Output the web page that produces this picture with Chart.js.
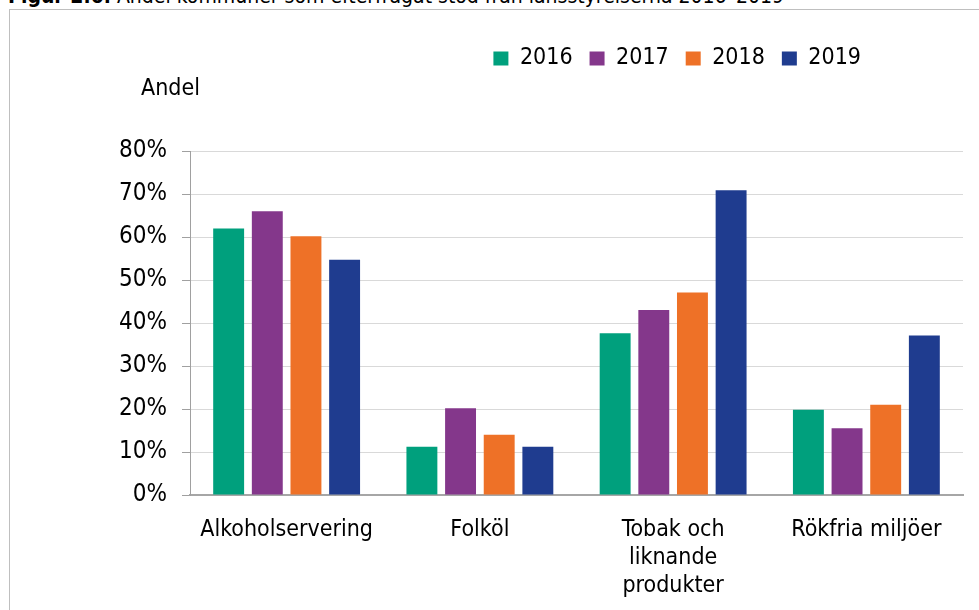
<!DOCTYPE html>
<html lang="sv">
<head>
<meta charset="utf-8">
<script src="https://cdn.jsdelivr.net/npm/chart.js@4/dist/chart.umd.min.js"></script>
<style>
  html, body { margin: 0; padding: 0; background: #fff; overflow: hidden; }
  #caption {
    position: absolute; left: 8px; top: -14px;
    font-family: "DejaVu Sans Condensed", "DejaVu Sans", sans-serif;
    font-size: 21px; line-height: 21px; color: #000; white-space: nowrap;
  }
  #ram {
    position: absolute; left: 9px; top: 9px; width: 1000px; height: 700px;
    border: 1px solid #bfbfbf;
  }
  #wrap { position: absolute; left: 0; top: 0; width: 979px; height: 610px; }
</style>
</head>
<body>
<div id="caption"><b>Figur 2.6.</b> Andel kommuner som efterfrågat stöd från länsstyrelserna 2016–2019</div>
<div id="ram"></div>
<div id="wrap"><canvas id="diagram" width="979" height="610"></canvas></div>
<script>
const kategorier = ["Alkoholservering", "Folköl", ["Tobak och", "liknande", "produkter"], "Rökfria miljöer"];
const ar = ["2016", "2017", "2018", "2019"];
const varden2016 = [62, 11.2, 37.6, 19.8];
const varden2017 = [66, 20.2, 43, 15.5];
const varden2018 = [60.2, 14, 47.1, 21];
const varden2019 = [54.7, 11.2, 70.9, 37.1];
const farger = ["#00A07D", "#84378B", "#EE7127", "#1F3C8F"];

const typsnitt = "'DejaVu Sans Condensed', 'DejaVu Sans', sans-serif";

// flyttar legend och rubriken "Andel" i sidled
const placering = {
    id: "placering",
    afterLayout(chart) {
        chart.legend.right = 878;
        chart.legend.adjustHitBoxes();
        chart.titleBlock.left = 141;
    }
};

const serier = [varden2016, varden2017, varden2018, varden2019];

new Chart(document.getElementById("diagram").getContext("2d"), {
    type: "bar",
    data: {
        labels: kategorier,
        datasets: serier.map((v, i) => ({
            label: ar[i],
            data: v,
            backgroundColor: farger[i],
            barPercentage: 0.8,
            categoryPercentage: 0.8
        }))
    },
    plugins: [placering],
    options: {
        responsive: false,
        animation: false,
        layout: { padding: { left: 0, right: 16, top: 30, bottom: 12 } },
        plugins: {
            tooltip: { enabled: false },
            legend: {
                position: "top",
                align: "end",
                weight: 3000,
                labels: {
                    boxWidth: 15,
                    boxHeight: 14,
                    padding: 17,
                    color: "#000",
                    font: { family: typsnitt, size: 23 }
                }
            },
            title: {
                display: true,
                text: "Andel",
                align: "start",
                color: "#000",
                font: { family: typsnitt, size: 23, weight: "normal", lineHeight: 1 },
                padding: { top: -2, bottom: 50 }
            }
        },
        scales: {
            x: {
                afterFit(scale) { scale.height = 103; },
                grid: { display: false, drawTicks: false },
                border: { display: true, color: "#a6a6a6", width: 2 },
                ticks: {
                    color: "#000",
                    padding: 21,
                    maxRotation: 0,
                    autoSkip: false,
                    font: { family: typsnitt, size: 23, lineHeight: 1.22 }
                }
            },
            y: {
                min: 0,
                max: 80,
                afterFit(scale) { scale.width = 190; },
                grid: { color: "#d9d9d9", tickColor: "#a0a0a0", tickLength: 8, lineWidth: 1 },
                border: { display: true, color: "#a0a0a0", width: 1 },
                ticks: {
                    stepSize: 10,
                    color: "#000",
                    padding: 15,
                    font: { family: typsnitt, size: 24 },
                    callback: v => v + "%"
                }
            }
        }
    }
});
</script>
</body>
</html>
